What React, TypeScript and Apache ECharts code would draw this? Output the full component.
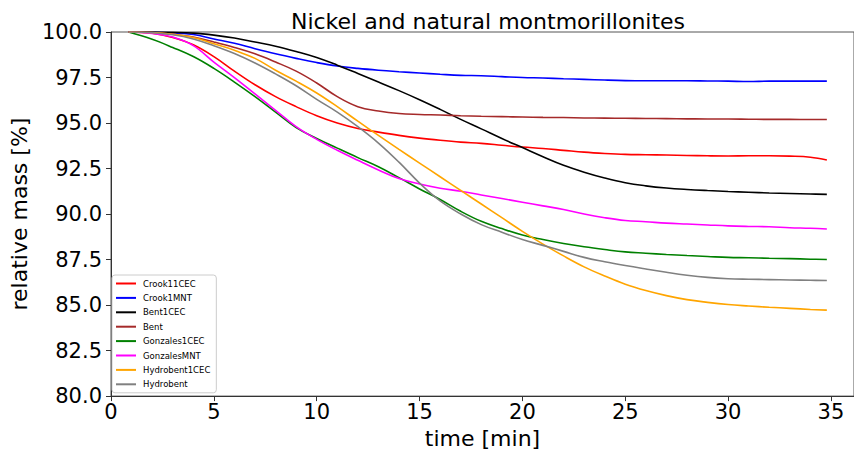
import React, { useEffect, useRef } from "react";
import * as echarts from "echarts";

// Sampling times in minutes, shared by all curves
const times = [0.85, 2, 3, 4, 5, 6, 7, 8, 9, 10, 11, 12, 13, 14, 15, 16, 17, 18, 19, 20, 21, 22, 23, 24, 25, 26, 27, 28, 29, 30, 31, 32, 33, 34, 34.8];

// Relative mass [%] for each sample
const crook11CEC = [100, 99.93, 99.7, 99.3, 98.65, 97.85, 97.1, 96.45, 95.9, 95.4, 95.0, 94.7, 94.5, 94.32, 94.17, 94.05, 93.95, 93.88, 93.78, 93.68, 93.6, 93.5, 93.4, 93.33, 93.28, 93.26, 93.24, 93.22, 93.2, 93.19, 93.2, 93.2, 93.18, 93.12, 92.97];
const crook1MNT = [100, 99.99, 99.95, 99.86, 99.62, 99.38, 99.08, 98.8, 98.55, 98.32, 98.13, 98.0, 97.9, 97.82, 97.75, 97.68, 97.62, 97.6, 97.55, 97.5, 97.47, 97.43, 97.4, 97.36, 97.33, 97.32, 97.32, 97.32, 97.31, 97.3, 97.28, 97.3, 97.3, 97.3, 97.3];
const bent1CEC = [100, 100, 99.98, 99.94, 99.83, 99.67, 99.45, 99.22, 98.93, 98.6, 98.18, 97.72, 97.25, 96.78, 96.28, 95.75, 95.2, 94.68, 94.15, 93.65, 93.15, 92.68, 92.3, 91.98, 91.72, 91.55, 91.43, 91.35, 91.29, 91.24, 91.2, 91.16, 91.13, 91.1, 91.08];
const bent = [100, 99.97, 99.88, 99.72, 99.45, 99.15, 98.8, 98.35, 97.85, 97.2, 96.45, 95.9, 95.66, 95.52, 95.47, 95.44, 95.4, 95.37, 95.35, 95.33, 95.31, 95.3, 95.28, 95.27, 95.26, 95.25, 95.24, 95.23, 95.22, 95.22, 95.21, 95.2, 95.2, 95.19, 95.19];
const gonzales1CEC = [100, 99.6, 99.15, 98.65, 98.0, 97.25, 96.45, 95.6, 94.75, 94.15, 93.62, 93.1, 92.6, 92.0, 91.38, 90.8, 90.15, 89.6, 89.2, 88.85, 88.6, 88.38, 88.2, 88.05, 87.92, 87.85, 87.78, 87.72, 87.67, 87.62, 87.6, 87.57, 87.55, 87.52, 87.5];
const gonzalesMNT = [100, 99.92, 99.72, 99.25, 98.35, 97.5, 96.6, 95.7, 94.8, 94.1, 93.5, 92.95, 92.42, 91.95, 91.65, 91.42, 91.25, 91.05, 90.85, 90.65, 90.45, 90.25, 90.0, 89.8, 89.65, 89.58, 89.5, 89.45, 89.4, 89.35, 89.32, 89.3, 89.25, 89.22, 89.18];
const hydrobent1CEC = [100, 99.97, 99.88, 99.7, 99.35, 99.0, 98.55, 97.9, 97.3, 96.65, 95.9, 95.1, 94.32, 93.55, 92.8, 92.05, 91.3, 90.55, 89.8, 89.05, 88.35, 87.7, 87.1, 86.6, 86.15, 85.8, 85.52, 85.3, 85.15, 85.03, 84.95, 84.88, 84.82, 84.76, 84.72];
const hydrobent = [100, 99.96, 99.85, 99.62, 99.25, 98.82, 98.3, 97.7, 97.05, 96.3, 95.6, 94.8, 93.9, 92.85, 91.7, 90.72, 90.0, 89.42, 89.0, 88.6, 88.28, 87.95, 87.62, 87.38, 87.17, 86.98, 86.8, 86.64, 86.52, 86.45, 86.42, 86.4, 86.38, 86.36, 86.35];

const seriesNames = ["Crook11CEC", "Crook1MNT", "Bent1CEC", "Bent", "Gonzales1CEC", "GonzalesMNT", "Hydrobent1CEC", "Hydrobent"];
const seriesValues = [crook11CEC, crook1MNT, bent1CEC, bent, gonzales1CEC, gonzalesMNT, hydrobent1CEC, hydrobent];
const seriesColors = ["#ff0000", "#0000ff", "#000000", "#a52a2a", "#008000", "#ff00ff", "#ffa500", "#808080"];

const yTicks = ["100.0", "97.5", "95.0", "92.5", "90.0", "87.5", "85.0", "82.5", "80.0"];

const FONT = "DejaVu Sans";

export default function App() {
  const ref = useRef<HTMLDivElement>(null);

  useEffect(() => {
    if (!ref.current) return;
    const chart = echarts.init(ref.current, undefined, { renderer: "svg" });

    const series = seriesNames.map((name, i) => ({
      name,
      type: "line",
      data: times.map((t, j) => [t, seriesValues[i][j]]),
      showSymbol: false,
      smooth: 0.4,
      lineStyle: { color: seriesColors[i], width: 1.6 },
      itemStyle: { color: seriesColors[i] },
      z: 2,
    }));

    chart.setOption({
      animation: false,
      backgroundColor: "#ffffff",
      textStyle: { fontFamily: FONT },
      title: {
        text: "Nickel and natural montmorillonites",
        left: 483,
        textAlign: "center",
        top: 5,
        textStyle: { fontFamily: FONT, fontSize: 22, fontWeight: "normal", color: "#000" },
      },
      grid: {
        left: 111,
        right: 0,
        top: 32,
        bottom: 56,
        show: true,
        borderColor: "#555",
        borderWidth: 1,
      },
      legend: {
        orient: "vertical",
        left: 112,
        top: 275,
        data: seriesNames.map((n) => ({ name: n, icon: "rect" })),
        itemWidth: 20,
        itemHeight: 2,
        itemGap: 5.4,
        padding: [4, 6, 4, 4],
        borderColor: "#cccccc",
        borderWidth: 1,
        borderRadius: 3,
        backgroundColor: "rgba(255,255,255,0.85)",
        textStyle: { fontFamily: FONT, fontSize: 8.5, color: "#000", padding: [0, 0, 0, 2] },
      },
      xAxis: {
        type: "value",
        min: 0,
        max: 36.12,
        interval: 5,
        name: "time [min]",
        nameLocation: "middle",
        nameGap: 30,
        nameTextStyle: { fontFamily: FONT, fontSize: 22, color: "#000" },
        axisLine: { show: true, lineStyle: { color: "#333", width: 1 } },
        axisTick: { show: true, length: 5, lineStyle: { color: "#333" } },
        axisLabel: {
          fontFamily: FONT,
          fontSize: 21,
          color: "#000",
          margin: 5,
          showMaxLabel: false,
        },
        splitLine: { show: false },
      },
      yAxis: {
        type: "value",
        min: 80,
        max: 100,
        interval: 2.5,
        name: "relative mass [%]",
        nameLocation: "middle",
        nameGap: 75,
        nameRotate: 90,
        nameTextStyle: { fontFamily: FONT, fontSize: 22, color: "#000" },
        axisLine: { show: true, lineStyle: { color: "#333", width: 1 } },
        axisTick: { show: true, length: 5, lineStyle: { color: "#333" } },
        axisLabel: {
          fontFamily: FONT,
          fontSize: 21,
          color: "#000",
          margin: 9,
          formatter: (v: number) => {
            const idx = Math.round((100 - v) / 2.5);
            return yTicks[idx] ?? v.toFixed(1);
          },
        },
        splitLine: { show: false },
      },
      series,
    });

    return () => chart.dispose();
  }, []);

  return <div ref={ref} style={{ position: "fixed", left: 0, top: 0, width: 854, height: 454 }} />;
}
